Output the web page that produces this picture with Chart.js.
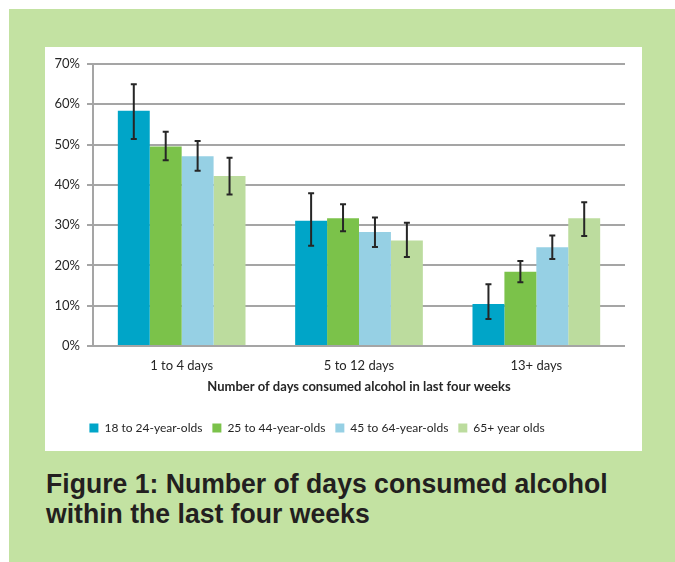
<!DOCTYPE html>
<html>
<head>
<meta charset="utf-8">
<script src="https://cdn.jsdelivr.net/npm/chart.js@4"></script>
<style>
  html, body { margin: 0; padding: 0; background: #fff; }
  body { width: 675px; height: 562px; position: relative; overflow: hidden; }
  .frame { position: absolute; left: 9px; top: 9px; width: 670px; height: 560px; background: #c3e2a2; }
  .panel { position: absolute; left: 45px; top: 47px; width: 597px; height: 404px; background: #fff; }
  .caption {
    position: absolute; left: 46px; top: 469px;
    font-family: 'Liberation Sans', Arial, sans-serif; font-weight: bold;
    font-size: 28px; line-height: 30px; color: #231f20;
    transform: scaleX(0.95); transform-origin: left top; white-space: nowrap;
  }
</style>
</head>
<body>
<div class="frame"></div>
<div class="panel"><canvas id="alcoholChart" width="597" height="404"></canvas></div>
<div class="caption">Figure 1: Number of days consumed alcohol<br>within the last four weeks</div>
<script>
const categories = ['1 to 4 days', '5 to 12 days', '13+ days'];
const ageGroups = ['18 to 24-year-olds', '25 to 44-year-olds', '45 to 64-year-olds', '65+ year olds'];
const yTicks = [0, 10, 20, 30, 40, 50, 60, 70];

// percentages per age group
const age18to24 = [58.4, 31.1, 10.4];
const age25to44 = [49.5, 31.7, 18.4];
const age45to64 = [47.1, 28.3, 24.5];
const age65plus = [42.2, 26.2, 31.7];

// confidence intervals (low / high)
const low18to24 = [51.4, 24.9, 6.7];
const high18to24 = [65.0, 37.9, 15.3];
const low25to44 = [46.1, 28.5, 15.8];
const high25to44 = [53.2, 35.2, 21.1];
const low45to64 = [43.5, 24.6, 21.6];
const high45to64 = [50.9, 31.9, 27.4];
const low65plus = [37.6, 22.1, 27.3];
const high65plus = [46.7, 30.6, 35.7];

const textColor = '#262626';
const gridColor = '#a5a5a5';

// whiskers drawn on top of each bar
const errorBars = {
  id: 'errorBars',
  afterDatasetsDraw(chart) {
    const ctx = chart.ctx;
    const yScale = chart.scales.y;
    ctx.save();
    ctx.strokeStyle = '#262626';
    ctx.lineWidth = 2;
    chart.data.datasets.forEach((ds, di) => {
      const meta = chart.getDatasetMeta(di);
      meta.data.forEach((bar, i) => {
        const yLo = yScale.getPixelForValue(ds.errLow[i]);
        const yHi = yScale.getPixelForValue(ds.errHigh[i]);
        const x = bar.x;
        ctx.beginPath();
        ctx.moveTo(x, yLo); ctx.lineTo(x, yHi);
        ctx.moveTo(x - 3, yLo); ctx.lineTo(x + 3, yLo);
        ctx.moveTo(x - 3, yHi); ctx.lineTo(x + 3, yHi);
        ctx.stroke();
      });
    });
    ctx.restore();
  }
};

// legend sits a little left of the canvas centre
const legendShift = {
  id: 'legendShift',
  afterLayout(chart) {
    chart.legend.left -= 18;
    chart.legend.right -= 18;
  }
};

const ctx1 = document.getElementById('alcoholChart');
const alcoholChart = new Chart(ctx1, {
  type: 'bar',
  data: {
    labels: categories,
    datasets: [
      { label: ageGroups[0], data: age18to24, errLow: low18to24, errHigh: high18to24, backgroundColor: '#00a5c8' },
      { label: ageGroups[1], data: age25to44, errLow: low25to44, errHigh: high25to44, backgroundColor: '#7bc24a' },
      { label: ageGroups[2], data: age45to64, errLow: low45to64, errHigh: high45to64, backgroundColor: '#96d0e4' },
      { label: ageGroups[3], data: age65plus, errLow: low65plus, errHigh: high65plus, backgroundColor: '#bcdc9e' }
    ]
  },
  options: {
    responsive: false,
    animation: false,
    categoryPercentage: 0.72,
    barPercentage: 1,
    layout: { padding: { top: 17, right: 17, bottom: 7, left: 0 } },
    plugins: {
      legend: {
        position: 'bottom',
        labels: {
          boxWidth: 9,
          boxHeight: 9,
          padding: 10,
          color: textColor,
          font: { family: 'Lato', size: 12 }
        }
      },
      tooltip: { enabled: false }
    },
    scales: {
      x: {
        grid: { display: false, drawTicks: false },
        border: { display: false },
        ticks: { color: textColor, padding: 12, font: { family: 'Lato', size: 13 } },
        title: {
          display: true,
          text: 'Number of days consumed alcohol in last four weeks',
          color: textColor,
          font: { family: 'Lato', size: 13, weight: 'bold' },
          padding: { top: 4, bottom: 17 }
        },
        afterFit: (scale) => { scale.height = 66; }
      },
      y: {
        min: 0,
        max: 70,
        afterBuildTicks: (scale) => { scale.ticks = yTicks.map(v => ({ value: v })); },
        ticks: {
          color: textColor,
          padding: 7,
          font: { family: 'Lato', size: 13 },
          callback: (v) => v + '%'
        },
        grid: { color: gridColor, lineWidth: 2, tickLength: 6 },
        border: { display: true, color: gridColor, width: 2 },
        afterFit: (scale) => { scale.width = 48; }
      }
    }
  },
  plugins: [errorBars, legendShift]
});
</script>
</body>
</html>
